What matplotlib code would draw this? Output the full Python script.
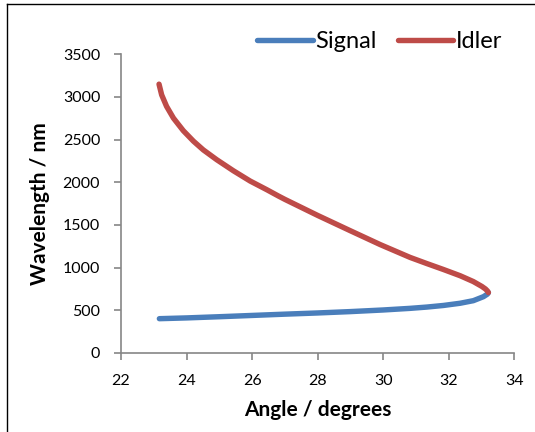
import matplotlib
matplotlib.use("Agg")
import matplotlib.pyplot as plt
from matplotlib.lines import Line2D

# ── Data ─────────────────────────────────────────────────────────────────────
signal_angle = [23.17, 24.0, 25.0, 26.0, 27.0, 28.0, 29.0, 30.0, 30.82, 31.33, 31.84,
                32.35, 32.75, 33.06, 33.18, 33.21]
signal_nm = [402, 411, 425, 440, 455, 469, 485, 504, 523, 538, 557,
             583, 613, 660, 690, 708]

idler_angle = [23.16, 23.24, 23.39, 23.60, 23.90, 24.21, 24.51, 24.92, 25.43, 25.94, 26.45,
               26.80, 27.0, 28.0, 29.0, 29.91, 30.82, 31.33, 31.84, 32.35, 32.75, 33.01,
               33.12, 33.18, 33.21]
idler_nm = [3150, 3025, 2890, 2752, 2605, 2482, 2380, 2265, 2135, 2015, 1913,
            1840, 1800, 1612, 1432, 1270, 1120, 1048, 978, 905, 837, 780,
            750, 727, 708]

x_ticks = [22, 24, 26, 28, 30, 32, 34]
y_ticks = [0, 500, 1000, 1500, 2000, 2500, 3000, 3500]

BLUE = "#4A7EBB"
RED = "#BE4B48"
GREY = "#868686"

plt.rcParams["font.family"] = ["Lato", "DejaVu Sans"]

fig = plt.figure(figsize=(5.35, 4.32), dpi=100)
ax = fig.add_axes([0.2262, 0.1829, 0.7351, 0.6914])

ax.plot(signal_angle, signal_nm, color=BLUE, lw=3.9, solid_capstyle="round",
        solid_joinstyle="round", label="Signal")
ax.plot(idler_angle, idler_nm, color=RED, lw=3.9, solid_capstyle="round",
        solid_joinstyle="round", label="Idler")

ax.set_xlim(22, 34)
ax.set_ylim(0, 3500)
ax.set_xticks(x_ticks)
ax.set_yticks(y_ticks)

for side in ["top", "right"]:
    ax.spines[side].set_visible(False)
for side in ["left", "bottom"]:
    ax.spines[side].set_color(GREY)
    ax.spines[side].set_linewidth(1.2)

ax.tick_params(direction="out", length=5, width=1.2, color=GREY, labelsize=11.5, pad=10)

ax.set_xlabel("Angle / degrees", fontsize=15, fontweight="bold", va="center")
ax.set_ylabel("Wavelength / nm", fontsize=15, fontweight="bold", va="center")
ax.xaxis.set_label_coords(0.5, -0.19)
ax.yaxis.set_label_coords(-0.206, 0.5)

# legend above the plot, right side
fig.legend(loc="center right", bbox_to_anchor=(502 / 535, 1 - 42 / 432), ncol=2,
           frameon=False, fontsize=17, handlelength=2.35, handletextpad=0.1,
           columnspacing=0.9, borderpad=0, borderaxespad=0)

# chart-area frame (right and bottom edges are cropped in the reference)
fig.add_artist(Line2D([6.5 / 535, 6.5 / 535], [0, 1 - 4 / 432], transform=fig.transFigure,
                      color="black", lw=1))
fig.add_artist(Line2D([6.5 / 535, 1], [1 - 4 / 432, 1 - 4 / 432], transform=fig.transFigure,
                      color="black", lw=1))

fig.savefig("out.png", dpi=100)
